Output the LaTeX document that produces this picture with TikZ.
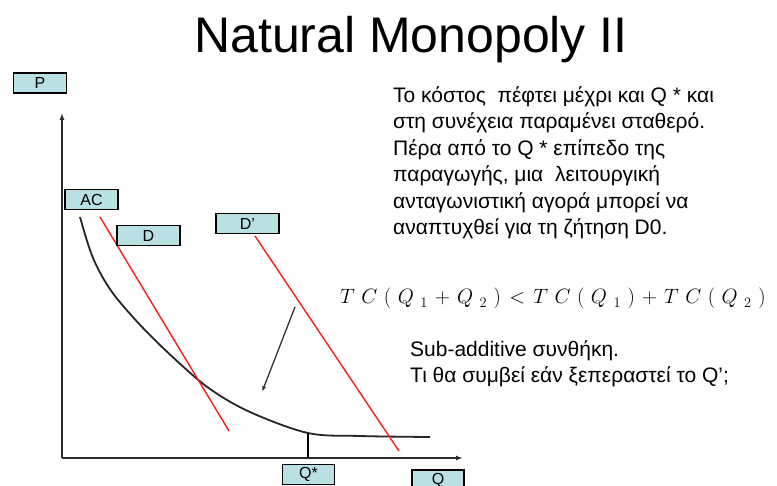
\documentclass[tikz,border=0pt]{standalone}
\usepackage{fontspec}
\setmainfont{Liberation Sans}
\usetikzlibrary{arrows.meta, positioning}
\definecolor{tagCyan}{HTML}{B9E0E2}
\definecolor{axisGrey}{HTML}{2B2B2B}
\definecolor{demRed}{HTML}{FF1A1A}
\newcommand{\eqgap}{\hspace{6.5pt}}
\newcommand{\opgap}{\hspace{2.5pt}}
\tikzset{
  axisline/.style  = {-{Latex[length=7pt,width=5pt]}, line width=1.8pt, axisGrey},
  tag/.style       = {draw=black, fill=tagCyan, line width=1.6pt, inner sep=0pt,
                      minimum height=20pt, font=\fontsize{16}{18}\selectfont},
  demand/.style    = {demRed, line width=1.4pt},
  costcurve/.style = {black!85, line width=1.8pt},
  body/.style      = {font=\fontsize{21}{26.5}\selectfont, align=left, inner sep=0pt},
}

\begin{document}
\begin{tikzpicture}[x=1pt,y=-1pt]
  \useasboundingbox (0,0) rectangle (777,486);
  \node[font=\fontsize{50}{56}\selectfont, anchor=base] (title) at (411,53) {Natural Monopoly II};
  % axes
  \coordinate (origin) at (62,458);
  \coordinate (ptip) at (62,113);
  \coordinate (qtip) at (463,458);
  \draw[axisline] (origin) -- (ptip);
  \draw[axisline] (origin) -- (qtip);
  % average cost
  \draw[costcurve] plot[smooth, tension=0.55] coordinates {(80,217) (93,258) (112,292)
    (143,328) (177,361) (210,389) (250,412) (308,433) (360,436) (430,437)};
  \coordinate (qstar) at (308,433);
  \coordinate (qstarfoot) at (308,458);
  \draw[line width=1.5pt] (qstar) -- (qstarfoot);
  % demand lines
  \coordinate (dtop) at (100,217);   \coordinate (dend) at (229,431);
  \coordinate (dptop) at (255,236);  \coordinate (dpend) at (399,451);
  \draw[demand] (dtop) -- (dend);
  \draw[demand] (dptop) -- (dpend);
  \coordinate (arrfrom) at (295,307); \coordinate (arrto) at (262,392);
  \draw[-{Latex[length=6pt,width=4pt]}, line width=1.3pt, black!80] (arrfrom) -- (arrto);
  % labels
  \node[tag, minimum width=53pt] (plbl) at (40,83) {P};
  \node[tag, minimum width=53pt] (aclbl) at (91.5,199.5) {AC};
  \node[tag, minimum width=63pt] (dlbl) at (148.5,235.5) {D};
  \node[tag, minimum width=63pt] (dplbl) at (247.5,223.5) {D’};
  \node[tag, minimum width=52pt] (qslbl) at (308.5,474.5) {Q*};
  \node[tag, minimum width=52pt] (qlbl) at (438,480) {Q};
  % text
  \node[body, anchor=north west] (note) at (393,86) {Το κόστος\ \ πέφτει μέχρι και Q * και\\
    στη συνέχεια παραμένει σταθερό.\\ Πέρα από το Q * επίπεδο της\\
    παραγωγής, μια\ \ λειτουργική\\ ανταγωνιστική αγορά μπορεί να\\
    αναπτυχθεί για τη ζήτηση D0.};
  \node[anchor=base west, inner sep=0pt, font=\fontsize{22}{26}\selectfont] (ineq) at (340,304)
    {$T\eqgap C\eqgap(\eqgap Q_{\eqgap 1}\opgap+\opgap Q_{\eqgap 2}\eqgap)\opgap<\opgap
      T\eqgap C\eqgap(\eqgap Q_{\eqgap 1}\eqgap)\opgap+\opgap
      T\eqgap C\eqgap(\eqgap Q_{\eqgap 2}\eqgap)$};
  \node[body, anchor=north west] (subadd) at (410,340) {Sub-additive συνθήκη.\\
    Τι θα συμβεί εάν ξεπεραστεί το Q’;};
\end{tikzpicture}
\end{document}
